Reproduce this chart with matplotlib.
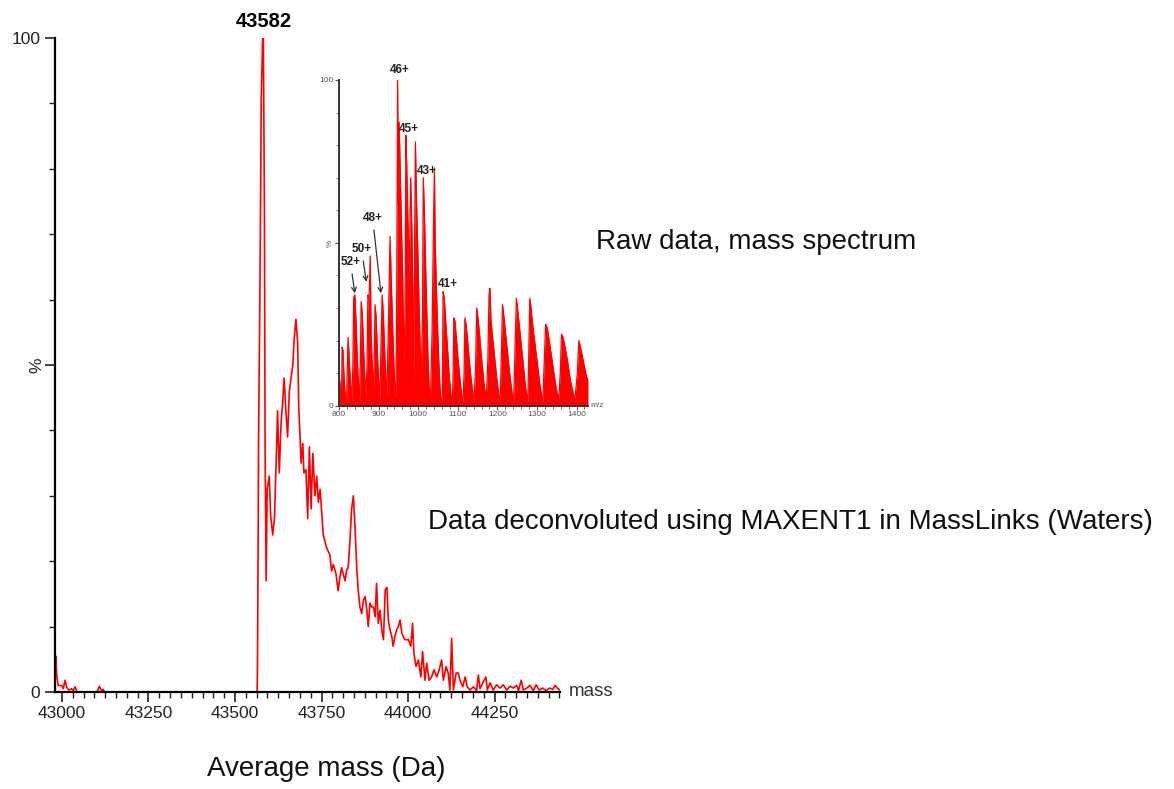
import matplotlib
matplotlib.use("Agg")
import matplotlib.pyplot as plt
from matplotlib.ticker import MultipleLocator, FixedLocator

plt.rcParams['font.family'] = ['Liberation Sans', 'DejaVu Sans']

# deconvoluted spectrum (mass in Da, relative intensity %)
deconv_baseline = [(42980, 1.0), (42982, 5.5), (42985, 2.5), (42989, 1.0), (42999, 1.0),
                   (43004, 0.5), (43009, 1.8), (43014, 0.7), (43020, 0.3), (43028, 0.5),
                   (43033, 0.2), (43038, 0.8), (43042, 0.2), (43046, 0.0), (43100, 0.0),
                   (43104, 0.3), (43108, 0.9), (43114, 0.2), (43119, 0.4), (43124, 0.0),
                   (43564, 0.0)]
deconv_peak = [(43565, 4), (43567, 24), (43568, 38), (43572, 61), (43576, 91), (43580, 100),
               (43582, 100), (43585, 74), (43587, 37), (43590, 17), (43593, 31), (43599, 33),
               (43603, 27), (43609, 24), (43614, 26.5), (43620, 37), (43623, 43), (43628, 33.5),
               (43633, 41), (43638, 44.5), (43642, 48), (43647, 43), (43652, 39), (43657, 46),
               (43662, 48), (43667, 50), (43671, 54), (43676, 57), (43681, 53.5), (43684, 44),
               (43688, 39), (43691, 35), (43696, 38), (43699, 33.5), (43705, 34), (43710, 26.5),
               (43715, 37.5), (43720, 28), (43725, 36.5), (43731, 30), (43736, 33), (43741, 29),
               (43746, 31), (43755, 24), (43765, 22), (43774, 21), (43779, 18.5), (43784, 19.5),
               (43792, 18), (43798, 15.5), (43803, 17.5), (43808, 19), (43813, 18), (43818, 17),
               (43823, 18.7), (43827, 19), (43832, 23), (43837, 28), (43842, 30), (43847, 25),
               (43852, 18.7), (43856, 15.6), (43861, 13), (43866, 12), (43871, 14), (43876, 14.6),
               (43881, 12.5), (43885, 10), (43890, 13.6), (43895, 13), (43900, 13), (43905, 11.5),
               (43909, 16.6), (43914, 10.5), (43919, 12.5), (43924, 9.5), (43929, 8), (43934, 15.6),
               (43939, 16), (43943, 11), (43948, 9.5), (43953, 8.5), (43957, 7), (43962, 8.5),
               (43967, 9.5), (43972, 10), (43977, 11), (43982, 9), (43986, 8.5), (43991, 8),
               (43996, 8), (44001, 8)]
deconv_tail = [(44008, 7), (44013, 10.5), (44017, 5.9), (44023, 3.9), (44030, 4.9), (44037, 2.3),
               (44042, 6.2), (44049, 1.8), (44054, 4.4), (44061, 1.8), (44068, 2.3), (44075, 3.4),
               (44083, 2.3), (44090, 3.4), (44097, 4.9), (44102, 1.8), (44110, 3.9), (44116, 2.9),
               (44121, 0.3), (44126, 8.2), (44131, 0.3), (44139, 2.9), (44145, 2.9), (44150, 1.8),
               (44158, 0.8), (44165, 2.3), (44171, 0.8), (44179, 0.3), (44189, 0.8), (44198, 0.2),
               (44203, 2.6), (44208, 0.5), (44216, 1.4), (44225, 2.3), (44229, 0.3), (44237, 1.4),
               (44246, 0.3), (44256, 1.1), (44266, 0.6), (44275, 1.1), (44285, 0.3), (44295, 0.9),
               (44304, 0.6), (44314, 1.0), (44319, 0.2), (44327, 1.8), (44333, 0.3), (44343, 0.6),
               (44352, 1.0), (44362, 0.2), (44370, 1.1), (44379, 0.3), (44389, 0.6), (44399, 0.2),
               (44408, 0.6), (44418, 0.4), (44425, 1.0), (44431, 0.6), (44439, 0.3)]

# raw ESI spectrum (m/z, %)
raw_low = [(800, 2), (802, 8), (804, 3), (806, 1), (808, 18), (810, 17), (813, 8), (816, 3),
           (819, 1), (821, 12), (823, 21), (826, 14), (829, 7), (832, 2), (835, 12), (837, 33),
           (840, 34), (843, 26), (846, 15), (849, 7), (852, 2), (854, 14), (856, 32), (859, 28),
           (862, 18), (865, 9), (868, 3), (871, 14), (873, 34), (876, 33), (879, 46), (881, 22),
           (884, 12), (887, 4), (889, 15), (891, 31), (894, 27), (897, 16), (900, 8), (903, 2),
           (906, 18), (909, 34), (912, 28), (915, 18), (918, 9), (921, 3), (924, 20), (927, 40),
           (929, 52), (932, 38), (935, 26), (938, 15), (941, 6), (944, 3)]
raw_top = [(946, 40), (948, 100), (950, 62), (952, 87), (955, 70), (958, 54), (961, 38),
           (964, 13), (967, 30), (969, 83), (971, 74), (974, 58), (977, 42), (979, 52), (981, 70),
           (984, 55), (987, 30), (989, 4), (991, 50), (993, 81), (996, 62), (999, 48), (1002, 32),
           (1005, 18), (1008, 8), (1011, 30), (1013, 70), (1016, 58), (1019, 42), (1022, 28),
           (1025, 14), (1028, 4), (1031, 2), (1035, 22), (1039, 58), (1041, 73), (1043, 50),
           (1046, 36), (1049, 24), (1052, 14), (1055, 6), (1058, 1)]
raw_high = [(1061, 3), (1063, 35), (1066, 33), (1070, 25), (1074, 18), (1078, 10), (1082, 4),
            (1086, 1), (1088, 8), (1090, 27), (1093, 26), (1097, 20), (1101, 14), (1105, 9),
            (1109, 4), (1113, 1), (1116, 10), (1118, 27), (1121, 25), (1125, 20), (1129, 14),
            (1133, 9), (1137, 5), (1141, 1), (1145, 12), (1148, 30), (1151, 27), (1155, 22),
            (1159, 16), (1163, 11), (1167, 6), (1172, 2), (1176, 14), (1179, 34), (1181, 36),
            (1184, 26), (1188, 21), (1193, 15), (1198, 9), (1203, 4), (1207, 1), (1210, 15),
            (1213, 31), (1216, 28), (1221, 22), (1226, 16), (1231, 10), (1236, 5), (1241, 1),
            (1244, 14), (1248, 33), (1251, 30), (1256, 24), (1261, 18), (1266, 12), (1271, 6),
            (1277, 1), (1279, 14), (1282, 33), (1285, 30), (1290, 24), (1296, 18), (1302, 12),
            (1308, 6), (1315, 1), (1318, 12), (1322, 25), (1326, 24), (1331, 20), (1337, 15),
            (1343, 10), (1349, 5), (1355, 2), (1359, 10), (1362, 22), (1366, 21), (1371, 18),
            (1377, 14), (1383, 9), (1389, 5), (1396, 2), (1402, 10), (1406, 20), (1410, 18),
            (1415, 15), (1420, 12), (1425, 9), (1429, 8)]

# charge state labels: (text, label x, label y, arrow tip or None)
charge_labels = [("46+", 954, 103, None), ("45+", 976, 85, None), ("43+", 1023, 72, None),
                 ("41+", 1074, 37.5, None), ("48+", 885, 57.5, (906, 34.5)),
                 ("50+", 857, 48, (869, 38)), ("52+", 829, 44, (840, 34.5))]

red = "#ff0000"

fig = plt.figure(figsize=(11.74, 7.89), dpi=100)

# ---- main deconvoluted spectrum ----
ax = fig.add_axes([55 / 1174, 1 - 692 / 789, 505 / 1174, 654 / 789])
pts = deconv_baseline + deconv_peak + deconv_tail
mx = [p[0] for p in pts]
my = [p[1] for p in pts]
ax.plot(mx, my, color=red, lw=1.2)
ax.set_xlim(42980, 44439)
ax.set_ylim(0, 100)
for s in ["top", "right"]:
    ax.spines[s].set_visible(False)
for s in ["left", "bottom"]:
    ax.spines[s].set_linewidth(1.6)
ax.xaxis.set_major_locator(FixedLocator([43000, 43250, 43500, 43750, 44000, 44250]))
ax.xaxis.set_minor_locator(MultipleLocator(31.25))
ax.yaxis.set_major_locator(FixedLocator([0, 50, 100]))
ax.yaxis.set_minor_locator(MultipleLocator(10))
ax.set_yticklabels(["0", "", "100"])
ax.tick_params(which="major", length=7, width=1.2, labelsize=12.5, colors="#222")
ax.tick_params(which="minor", length=4, width=1.0, colors="#222")
ax.tick_params(axis="x", pad=3)
ax.text(-0.035, 0.5, "%", transform=ax.transAxes, rotation=90, ha="center", va="center",
        fontsize=12.5, color="#222")
ax.text(1.018, 0.0, "mass", transform=ax.transAxes, ha="left", va="center",
        fontsize=13.5, color="#333")
ax.text(43582, 101, "43582", ha="center", va="bottom", fontsize=14.5, fontweight="bold",
        clip_on=False)

# ---- inset raw spectrum ----
ins = fig.add_axes([339 / 1174, 1 - 405.7 / 789, 249 / 1174, 325.7 / 789])
rpts = raw_low + raw_top + raw_high
rx = [p[0] for p in rpts]
ry = [p[1] for p in rpts]
ins.fill_between(rx, 0, ry, color=red, lw=0)
ins.plot(rx, ry, color=red, lw=0.9)
ins.set_xlim(800, 1429)
ins.set_ylim(0, 100)
ins.patch.set_alpha(0)
for s in ["top", "right"]:
    ins.spines[s].set_visible(False)
for s in ["left", "bottom"]:
    ins.spines[s].set_linewidth(1.4)
    ins.spines[s].set_color("#333")
ins.xaxis.set_major_locator(MultipleLocator(100))
ins.xaxis.set_minor_locator(MultipleLocator(20))
ins.yaxis.set_major_locator(FixedLocator([0, 50, 100]))
ins.yaxis.set_minor_locator(MultipleLocator(10))
ins.set_yticklabels(["0", "", "100"])
ins.tick_params(which="major", length=3, width=0.8, labelsize=6, colors="#555", pad=1)
ins.tick_params(which="minor", length=2, width=0.6, colors="#555")
ins.text(-0.035, 0.5, "%", transform=ins.transAxes, rotation=90, ha="center", va="center",
         fontsize=6, color="#555")
ins.text(1.01, 0.0, "m/z", transform=ins.transAxes, ha="left", va="center",
         fontsize=6, color="#555")
for txt, lx, ly, tip in charge_labels:
    if tip is None:
        ins.text(lx, ly, txt, ha="center", va="center", fontsize=8.5, fontweight="bold",
                 color="#222", clip_on=False)
    else:
        ins.annotate(txt, xy=tip, xytext=(lx, ly), ha="center", va="center", fontsize=8.5,
                     fontweight="bold", color="#222",
                     arrowprops=dict(arrowstyle="->", color="#333", lw=0.9, shrinkA=2, shrinkB=0))

# ---- descriptive text ----
fig.text(596 / 1174, 1 - 242 / 789, "Raw data, mass spectrum", ha="left", va="center",
         fontsize=20, color="#111")
fig.text(428 / 1174, 1 - 522 / 789, "Data deconvoluted using MAXENT1 in MassLinks (Waters)",
         ha="left", va="center", fontsize=20, color="#111")
fig.text(326 / 1174, 1 - 769 / 789, "Average mass (Da)", ha="center", va="center",
         fontsize=20, color="#111")

fig.savefig("out.png", dpi=100)
